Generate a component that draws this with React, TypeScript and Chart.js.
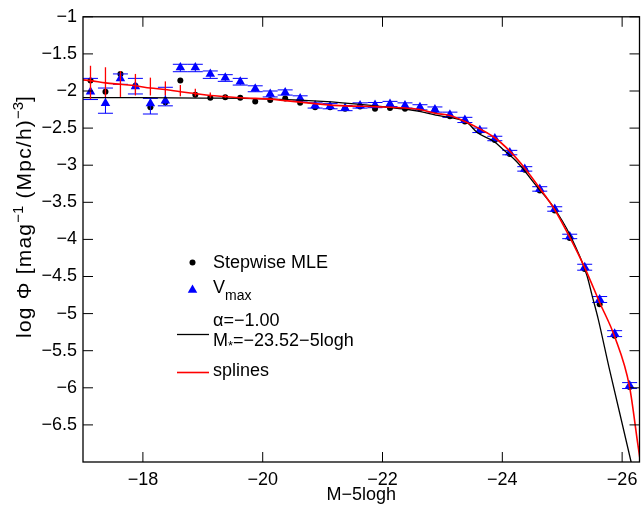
import React, { useEffect, useRef } from 'react';
import { Chart, registerables } from 'chart.js';
Chart.register(...registerables);

const FONT = "'Liberation Sans', Arial, Helvetica, sans-serif";

// Axis setup
const X_MIN = -26.29;
const X_MAX = -17;
const Y_MIN = -7;
const Y_MAX = -1;
const xTickValues = [-18, -20, -22, -24, -26];
const yTickValues = [-6.5, -6, -5.5, -5, -4.5, -4, -3.5, -3, -2.5, -2, -1.5, -1];

// Magnitude bins (M - 5 log h)
const binM = [
  -17.125, -17.375, -17.625, -17.875, -18.125, -18.375, -18.625, -18.875, -19.125, -19.375,
  -19.625, -19.875, -20.125, -20.375, -20.625, -20.875, -21.125, -21.375, -21.625, -21.875,
  -22.125, -22.375, -22.625, -22.875, -23.125, -23.375, -23.625, -23.875, -24.125, -24.375,
  -24.625, -24.875, -25.125, -25.375, -25.625, -25.875, -26.125,
];

// Stepwise MLE (black dots)
const mleLogPhi = [
  -1.86, -2.01, -1.77, -1.93, -2.22, -2.15, -1.86, -2.05, -2.09, -2.085,
  -2.09, -2.14, -2.12, -2.1, -2.16, -2.22, -2.22, -2.24, -2.21, -2.24,
  -2.23, -2.24, -2.24, -2.26, -2.34, -2.41, -2.54, -2.66, -2.85, -3.06,
  -3.34, -3.61, -3.98, -4.4, -4.875, -5.3, -5.99,
];

// Vmax (blue triangles) with error bar ends
const vmaxLogPhi = [
  -2.01, -2.165, -1.83, -1.94, -2.17, -2.13, -1.683, -1.683, -1.77, -1.82,
  -1.875, -1.97, -2.04, -2.02, -2.1, -2.196, -2.205, -2.23, -2.196, -2.19,
  -2.175, -2.196, -2.22, -2.25, -2.32, -2.39, -2.53, -2.64, -2.83, -3.05,
  -3.32, -3.59, -3.96, -4.375, -4.81, -5.27, -5.97,
];
const vmaxHi = [
  -1.83, -1.96, -1.77, -1.83, -2.1, -1.95, -1.64, -1.64, -1.73, -1.78,
  -1.83, -1.93, -2.0, -1.985, -2.065, -2.16, -2.17, -2.195, -2.16, -2.155,
  -2.14, -2.16, -2.185, -2.215, -2.285, -2.355, -2.5, -2.61, -2.8, -3.02,
  -3.29, -3.56, -3.93, -4.335, -4.77, -5.23, -5.93,
];
const vmaxLo = [
  -2.115, -2.3, -1.91, -2.04, -2.31, -2.2, -1.74, -1.74, -1.83, -1.87,
  -1.92, -2.01, -2.08, -2.055, -2.135, -2.23, -2.24, -2.265, -2.23, -2.225,
  -2.21, -2.23, -2.255, -2.285, -2.355, -2.425, -2.56, -2.67, -2.86, -3.08,
  -3.35, -3.62, -3.99, -4.415, -4.85, -5.31, -6.01,
];

// Spline fit (red curve)
const splineM = [
  -17.0, -17.125, -17.375, -17.625, -17.875, -18.125, -18.375, -18.625, -18.875, -19.125,
  -19.375, -19.625, -19.875, -20.125, -20.375, -20.625, -20.875, -21.125, -21.375, -21.625,
  -21.875, -22.125, -22.375, -22.625, -22.875, -23.125, -23.375, -23.625, -23.875, -24.125,
  -24.375, -24.625, -24.875, -25.125, -25.375, -25.625, -25.875, -26.125, -26.26, -26.35,
];
const splineLogPhi = [
  -1.85, -1.86, -1.89, -1.91, -1.93, -1.96, -1.98, -2.01, -2.035, -2.06,
  -2.075, -2.09, -2.1, -2.11, -2.13, -2.15, -2.17, -2.19, -2.2, -2.205,
  -2.21, -2.22, -2.23, -2.25, -2.3, -2.33, -2.41, -2.51, -2.63, -2.81,
  -3.04, -3.31, -3.6, -3.97, -4.38, -4.85, -5.31, -5.99, -6.75, -7.25,
];
// Spline error bars (red)
const splineErrM = [-17.125, -17.375, -17.625, -17.875, -18.125, -18.375, -18.625, -18.875, -19.125, -19.375];
const splineErrHi = [-1.66, -1.68, -1.73, -1.77, -1.82, -1.87, -1.92, -1.97, -2.02, -2.05];
const splineErrLo = [-2.11, -2.08, -2.08, -2.06, -2.06, -2.06, -2.07, -2.07, -2.09, -2.09];

// Schechter fit (black line), alpha=-1.00, M*=-23.52
const schechterM = [
  -17.0, -18.0, -19.0, -20.0, -21.0, -21.76, -22.0, -22.59, -22.92, -23.42,
  -23.58, -23.86, -24.03, -24.25, -24.58, -24.85, -25.13, -25.41, -25.5, -25.6,
  -25.78, -26.15, -26.3,
];
const schechterLogPhi = [
  -2.09, -2.09, -2.095, -2.105, -2.14, -2.19, -2.21, -2.27, -2.33, -2.43,
  -2.56, -2.68, -2.8, -2.96, -3.29, -3.56, -3.94, -4.48, -4.76, -5.07,
  -5.72, -7.0, -7.55,
];

const fmt = (v: number) => (v < 0 ? '\u2212' + String(Math.abs(v)) : String(v));

type Seg = { t: string; f: string; dy: number; ls?: string };

function measureRich(ctx: any, segs: Seg[]) {
  return segs.map((s) => {
    ctx.font = s.f;
    ctx.letterSpacing = s.ls || '0px';
    return ctx.measureText(s.t).width;
  });
}

function drawRich(ctx: any, segs: Seg[], x0: number, cy: number, center = false) {
  const ws = measureRich(ctx, segs);
  const total = ws.reduce((a, b) => a + b, 0);
  let x = center ? x0 - total / 2 : x0;
  ctx.textAlign = 'left';
  ctx.textBaseline = 'alphabetic';
  segs.forEach((s, i) => {
    ctx.font = s.f;
    ctx.letterSpacing = s.ls || '0px';
    ctx.fillText(s.t, x, cy + s.dy);
    x += ws[i];
  });
  ctx.letterSpacing = '0px';
}

export default function App() {
  const ref = useRef<HTMLCanvasElement>(null);

  useEffect(() => {
    const canvas = ref.current!;
    const pts = (xs: number[], ys: number[]) => xs.map((x, i) => ({ x, y: ys[i] }));

    const plugin = {
      id: 'matlabFrame',
      beforeDatasetDraw(chart: any, args: any) {
        if (args.index !== 2) return;
        const ctx = chart.ctx as CanvasRenderingContext2D;
        const xs = chart.scales.x;
        const ys = chart.scales.y;
        ctx.save();
        ctx.strokeStyle = '#0000ff';
        ctx.lineWidth = 1;
        binM.forEach((m, i) => {
          const px = xs.getPixelForValue(m);
          const y1 = ys.getPixelForValue(vmaxHi[i]);
          const y2 = ys.getPixelForValue(vmaxLo[i]);
          ctx.beginPath();
          ctx.moveTo(px, y1);
          ctx.lineTo(px, y2);
          ctx.moveTo(px - 7.5, y1);
          ctx.lineTo(px + 7.5, y1);
          ctx.moveTo(px - 7.5, y2);
          ctx.lineTo(px + 7.5, y2);
          ctx.stroke();
        });
        ctx.restore();
      },
      afterDatasetDraw(chart: any, args: any) {
        if (args.index !== 0) return;
        const ctx = chart.ctx as CanvasRenderingContext2D;
        const xs = chart.scales.x;
        const ys = chart.scales.y;
        ctx.save();
        ctx.strokeStyle = '#ff0000';
        ctx.lineWidth = 1.3;
        splineErrM.forEach((m, i) => {
          const px = xs.getPixelForValue(m);
          ctx.beginPath();
          ctx.moveTo(px, ys.getPixelForValue(splineErrHi[i]));
          ctx.lineTo(px, ys.getPixelForValue(splineErrLo[i]));
          ctx.stroke();
        });
        ctx.restore();
      },
      afterDraw(chart: any) {
        const ctx = chart.ctx as CanvasRenderingContext2D;
        const { left, right, top, bottom } = chart.chartArea;
        const xs = chart.scales.x;
        const ys = chart.scales.y;
        ctx.save();
        // box
        ctx.strokeStyle = '#000';
        ctx.lineWidth = 1.3;
        ctx.strokeRect(left, top, right - left, bottom - top);
        // inward ticks
        ctx.lineWidth = 1;
        ctx.beginPath();
        xTickValues.forEach((v) => {
          const px = xs.getPixelForValue(v);
          ctx.moveTo(px, bottom);
          ctx.lineTo(px, bottom - 10);
          ctx.moveTo(px, top);
          ctx.lineTo(px, top + 10);
        });
        yTickValues.forEach((v) => {
          const py = ys.getPixelForValue(v);
          ctx.moveTo(left, py);
          ctx.lineTo(left + 10, py);
          ctx.moveTo(right, py);
          ctx.lineTo(right - 10, py);
        });
        ctx.stroke();

        ctx.fillStyle = '#000';
        // x title
        ctx.font = `18px ${FONT}`;
        ctx.textAlign = 'center';
        ctx.textBaseline = 'alphabetic';
        ctx.fillText('M\u22125logh', (left + right) / 2, 500);

        // y title (rotated)
        ctx.save();
        ctx.translate(31, 217);
        ctx.rotate(-Math.PI / 2);
        const main = `21px ${FONT}`;
        const sup = `15px ${FONT}`;
        drawRich(ctx, [
          { t: 'log \u03A6 [mag', f: main, dy: 0, ls: '1.2px' },
          { t: '\u22121', f: sup, dy: -8 },
          { t: ' (Mpc/h)', f: main, dy: 0, ls: '1.2px' },
          { t: '\u22123', f: sup, dy: -8 },
          { t: ']', f: main, dy: 0 },
        ], 0, 0, true);
        ctx.restore();

        // legend
        const lf = `18px ${FONT}`;
        // Stepwise MLE
        ctx.beginPath();
        ctx.arc(192.5, 262.5, 3, 0, Math.PI * 2);
        ctx.fill();
        ctx.font = lf;
        ctx.textAlign = 'left';
        ctx.fillText('Stepwise MLE', 213, 268);
        // Vmax
        ctx.fillStyle = '#0000ff';
        ctx.beginPath();
        const r = 5.5;
        const cx = 192.5, cy = 290;
        ctx.moveTo(cx, cy - r);
        ctx.lineTo(cx + Math.sin((2 * Math.PI) / 3) * r, cy - Math.cos((2 * Math.PI) / 3) * r);
        ctx.lineTo(cx + Math.sin((4 * Math.PI) / 3) * r, cy - Math.cos((4 * Math.PI) / 3) * r);
        ctx.closePath();
        ctx.fill();
        ctx.fillStyle = '#000';
        drawRich(ctx, [
          { t: 'V', f: lf, dy: 0 },
          { t: 'max', f: `14px ${FONT}`, dy: 7 },
        ], 213, 292.5);
        // Schechter
        ctx.strokeStyle = '#000';
        ctx.lineWidth = 1.3;
        ctx.beginPath();
        ctx.moveTo(177, 334.5);
        ctx.lineTo(209, 334.5);
        ctx.stroke();
        ctx.font = lf;
        ctx.textAlign = 'left';
        ctx.fillText('\u03B1=\u22121.00', 213, 326);
        drawRich(ctx, [
          { t: 'M', f: lf, dy: 0 },
          { t: '*', f: `13px ${FONT}`, dy: 4 },
          { t: '=\u221223.52\u22125logh', f: lf, dy: 0 },
        ], 213, 346);
        // splines
        ctx.strokeStyle = '#ff0000';
        ctx.lineWidth = 1.6;
        ctx.beginPath();
        ctx.moveTo(177, 372.5);
        ctx.lineTo(209, 372.5);
        ctx.stroke();
        ctx.font = lf;
        ctx.textAlign = 'left';
        ctx.fillText('splines', 213, 376);
        ctx.restore();
      },
    };

    const chart = new Chart(canvas, {
      type: 'line',
      data: {
        datasets: [
          {
            label: 'splines',
            data: pts(splineM, splineLogPhi),
            borderColor: '#ff0000',
            borderWidth: 1.6,
            pointRadius: 0,
            cubicInterpolationMode: 'monotone',
            fill: false,
            order: 0,
          },
          {
            label: 'Schechter',
            data: pts(schechterM, schechterLogPhi),
            borderColor: '#000000',
            borderWidth: 1.3,
            pointRadius: 0,
            cubicInterpolationMode: 'monotone',
            fill: false,
            order: 1,
          },
          {
            label: 'Vmax',
            data: pts(binM, vmaxLogPhi),
            showLine: false,
            pointStyle: 'triangle',
            pointRadius: 5.5,
            backgroundColor: '#0000ff',
            borderColor: '#0000ff',
            borderWidth: 0,
            order: 2,
          },
          {
            label: 'Stepwise MLE',
            data: pts(binM, mleLogPhi),
            showLine: false,
            pointStyle: 'circle',
            pointRadius: 3,
            backgroundColor: '#000000',
            borderColor: '#000000',
            borderWidth: 0,
            order: 3,
          },
        ],
      } as any,
      options: {
        animation: false,
        responsive: false,
        events: [],
        layout: { padding: { left: 0, top: 14, right: 2, bottom: 0 } },
        plugins: { legend: { display: false }, tooltip: { enabled: false }, title: { display: false } },
        scales: {
          x: {
            type: 'linear',
            min: X_MIN,
            max: X_MAX,
            reverse: true,
            grid: { display: false, drawTicks: false },
            border: { display: false },
            ticks: {
              font: { family: FONT, size: 18 },
              color: '#000',
              padding: 7,
              autoSkip: false,
              maxRotation: 0,
              callback: (v: any) => fmt(Number(v)),
            },
            afterBuildTicks: (s: any) => {
              s.ticks = xTickValues.map((v) => ({ value: v }));
            },
            afterFit: (s: any) => {
              s.height = 46;
            },
          },
          y: {
            type: 'linear',
            min: Y_MIN,
            max: Y_MAX,
            grid: { display: false, drawTicks: false },
            border: { display: false },
            ticks: {
              font: { family: FONT, size: 18 },
              color: '#000',
              padding: 6,
              autoSkip: false,
              callback: (v: any) => fmt(Number(v)),
            },
            afterBuildTicks: (s: any) => {
              s.ticks = yTickValues.map((v) => ({ value: v }));
            },
            afterFit: (s: any) => {
              s.width = 83;
            },
          },
        },
      } as any,
      plugins: [plugin as any],
    });
    return () => chart.destroy();
  }, []);

  return (
    <div style={{ position: 'absolute', left: 0, top: 0, width: 642, height: 508, overflow: 'hidden', background: '#fff' }}>
      <canvas ref={ref} width={645} height={508} style={{ display: 'block' }} />
    </div>
  );
}
